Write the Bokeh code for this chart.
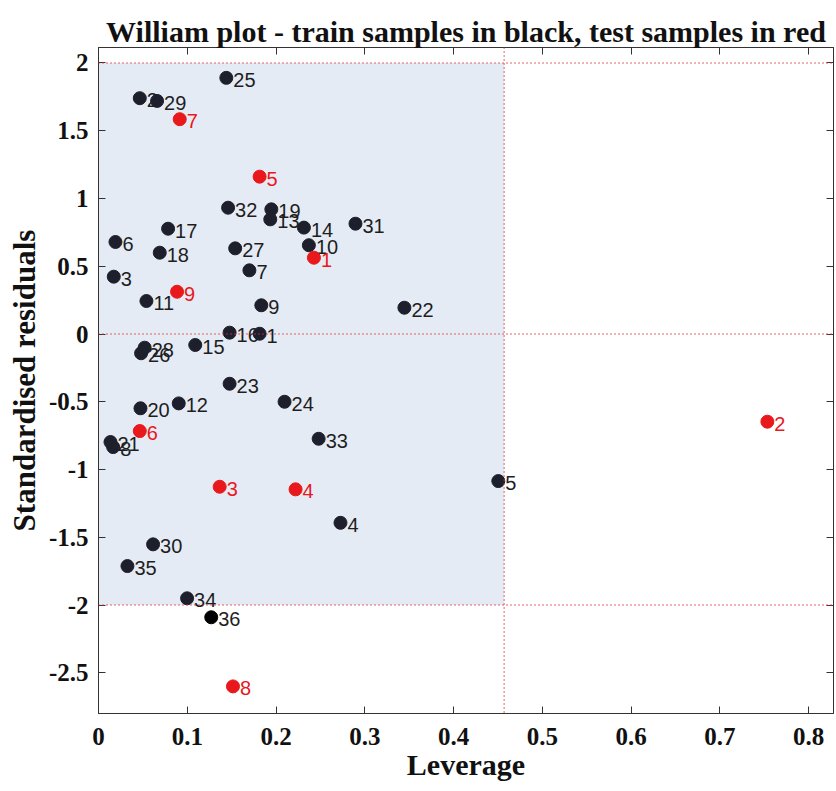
from bokeh.plotting import figure
from bokeh.models import ColumnDataSource, Span, LinearAxis, FixedTicker, CustomJSTickFormatter
from bokeh.embed import file_html
from bokeh.resources import INLINE

# ---------------- data ----------------
train_ids = [str(i) for i in range(1, 37)]
train_leverage = [0.1815, 0.0465, 0.0172, 0.2726, 0.4504, 0.0191, 0.170, 0.0165, 0.1834, 0.237,
                  0.054, 0.0904, 0.1935, 0.2314, 0.109, 0.1477, 0.0784, 0.069, 0.1947, 0.0473,
                  0.0135, 0.3446, 0.1477, 0.2096, 0.144, 0.048, 0.154, 0.052, 0.066, 0.0615,
                  0.2895, 0.146, 0.248, 0.0998, 0.0326, 0.127]
train_resid = [0.002, 1.74, 0.423, -1.393, -1.085, 0.679, 0.470, -0.834, 0.212, 0.655,
               0.2435, -0.512, 0.846, 0.785, -0.081, 0.010, 0.777, 0.600, 0.920, -0.548,
               -0.797, 0.194, -0.367, -0.500, 1.89, -0.142, 0.632, -0.101, 1.72, -1.552,
               0.814, 0.932, -0.773, -1.95, -1.712, -2.09]

test_ids = [str(i) for i in range(1, 10)]
test_leverage = [0.2427, 0.7535, 0.1365, 0.222, 0.1815, 0.0465, 0.0915, 0.1515, 0.0885]
test_resid = [0.563, -0.647, -1.127, -1.146, 1.161, -0.716, 1.585, -2.60, 0.312]

h_star = 0.457
resid_limit = 2.0

x_ticks = [0, 0.1, 0.2, 0.3, 0.4, 0.5, 0.6, 0.7, 0.8]
x_tick_labels = ["0", "0.1", "0.2", "0.3", "0.4", "0.5", "0.6", "0.7", "0.8"]
y_ticks = [2, 1.5, 1, 0.5, 0, -0.5, -1, -1.5, -2, -2.5]
y_tick_labels = ["2", "1.5", "1", "0.5", "0", "-0.5", "-1", "-1.5", "-2", "-2.5"]

# ---------------- styles ----------------
NAVY = "#1d202c"
RED = "#e8181c"
SERIF = "Liberation Serif"
SANS = "Liberation Sans"

train_colors = ["#000000" if t == "36" else NAVY for t in train_ids]
train_src = ColumnDataSource(dict(x=train_leverage, y=train_resid, t=train_ids, c=train_colors))
test_src = ColumnDataSource(dict(x=test_leverage, y=test_resid, t=test_ids))

p = figure(width=836, height=791, x_range=(0, 0.828), y_range=(-2.8, 2.114),
           output_backend="svg", toolbar_location=None,
           title="William plot - train samples in black, test samples in red",
           min_border_left=98, min_border_right=3, min_border_top=47, min_border_bottom=78)
p.background_fill_color = "white"
p.border_fill_color = "white"
p.xgrid.visible = False
p.ygrid.visible = False
p.outline_line_color = "#333333"

p.title.align = "center"
p.title.text_font = SERIF
p.title.text_font_style = "bold"
p.title.text_font_size = "30px"
p.title.text_color = "#111111"
p.title.standoff = 0

# applicability domain shading
p.quad(left=[0], right=[h_star], bottom=[-resid_limit], top=[resid_limit],
       fill_color="#e5ebf5", line_color=None)

dot_kw = dict(line_color="#d9333a", line_width=1.5, line_dash="1 3")
for yv in [resid_limit, 0, -resid_limit]:
    p.add_layout(Span(location=yv, dimension="width", **dot_kw))
p.add_layout(Span(location=h_star, dimension="height", **dot_kw))

# labels first, dots on top
p.text("x", "y", text="t", source=train_src, x_offset=7, y_offset=2,
       text_font={"value": SANS}, text_font_size="20px", text_color="#1e1e1e",
       text_baseline="middle", text_align="left")
p.text("x", "y", text="t", source=test_src, x_offset=7, y_offset=2,
       text_font={"value": SANS}, text_font_size="20px", text_color=RED,
       text_baseline="middle", text_align="left")
p.scatter("x", "y", source=train_src, size=13, fill_color="c", line_color="c")
p.scatter("x", "y", source=test_src, size=13, fill_color=RED, line_color=RED)

# axes
def style_axis(ax, tick_vals, tick_labels, show_labels=True):
    ax.ticker = FixedTicker(ticks=tick_vals)
    ax.minor_tick_line_color = None
    ax.major_tick_in = 7
    ax.major_tick_out = 0
    ax.axis_line_color = "#333333"
    ax.major_tick_line_color = "#333333"
    if show_labels:
        ax.formatter = CustomJSTickFormatter(
            args=dict(tvals=tick_vals, tlabels=tick_labels),
            code="""
            for (let i = 0; i < tvals.length; i++) {
                if (Math.abs(tvals[i] - tick) < 1e-9) { return tlabels[i]; }
            }
            return String(tick);
            """)
        ax.major_label_text_font = SERIF
        ax.major_label_text_font_style = "bold"
        ax.major_label_text_font_size = "25px"
        ax.major_label_text_color = "#111111"
    else:
        ax.major_label_text_font_size = "1px"
        ax.major_label_text_color = None
        ax.major_label_standoff = 0

xa = p.xaxis[0]
style_axis(xa, x_ticks, x_tick_labels)
xa.major_label_standoff = 14
xa.axis_label = "Leverage"
xa.axis_label_text_font = SERIF
xa.axis_label_text_font_style = "bold"
xa.axis_label_text_font_size = "30px"
xa.axis_label_text_color = "#111111"
xa.axis_label_standoff = 0

ya = p.yaxis[0]
style_axis(ya, y_ticks, y_tick_labels)
ya.major_label_standoff = 10
ya.axis_label = "Standardised residuals"
ya.axis_label_text_font = SERIF
ya.axis_label_text_font_style = "bold"
ya.axis_label_text_font_size = "31px"
ya.axis_label_text_color = "#111111"
ya.axis_label_standoff = 4

top = LinearAxis()
style_axis(top, x_ticks, x_tick_labels, show_labels=False)
p.add_layout(top, "above")
right = LinearAxis()
style_axis(right, y_ticks, y_tick_labels, show_labels=False)
p.add_layout(right, "right")

open("out.html", "w").write(file_html(p, INLINE))
